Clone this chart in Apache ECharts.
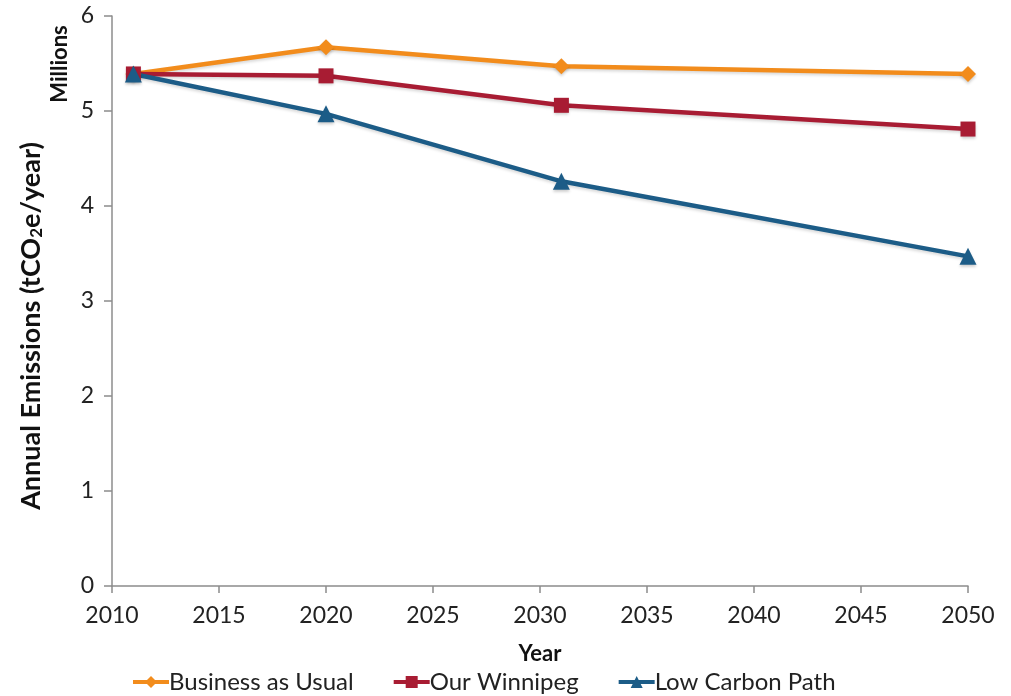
<!DOCTYPE html>
<html>
<head>
<meta charset="utf-8">
<script src="https://cdn.jsdelivr.net/npm/echarts@6/dist/echarts.min.js"></script>
<style>
  html, body { margin: 0; padding: 0; background: #fff; }
  #chart { width: 1011px; height: 696px; }
</style>
</head>
<body>
<div id="chart"></div>
<script>
// Annual emissions scenarios, millions of tCO2e per year
const years = [2011, 2020, 2031, 2050];
const businessAsUsual = [5.39, 5.67, 5.47, 5.39];
const ourWinnipeg = [5.39, 5.37, 5.06, 4.81];
const lowCarbonPath = [5.39, 4.97, 4.26, 3.47];
const seriesNames = ['Business as Usual', 'Our Winnipeg', 'Low Carbon Path'];

const FONT = 'Lato, "Open Sans", sans-serif';
const pair = (vals) => years.map((y, i) => [y, vals[i]]);

const chart = echarts.init(document.getElementById('chart'));

function lineSeries(name, vals, color, symbol, size) {
  return {
    name: name,
    type: 'line',
    data: pair(vals),
    symbol: symbol,
    symbolSize: size,
    showAllSymbol: true,
    lineStyle: { color: color, width: 4.5, shadowColor: 'rgba(0,0,0,0.15)', shadowBlur: 3, shadowOffsetY: 2 },
    itemStyle: { color: color, shadowColor: 'rgba(0,0,0,0.2)', shadowBlur: 3, shadowOffsetY: 2 },
    emphasis: { disabled: true },
    animation: false
  };
}

chart.setOption({
  backgroundColor: '#ffffff',
  textStyle: { fontFamily: FONT },
  grid: { left: 112, right: 43, top: 16, bottom: 110 },
  xAxis: {
    type: 'value',
    min: 2010,
    max: 2050,
    interval: 5,
    name: 'Year',
    nameLocation: 'middle',
    nameGap: 57,
    nameTextStyle: { fontFamily: FONT, fontWeight: 'bold', fontSize: 22, color: '#111' },
    axisLine: { show: true, lineStyle: { color: '#8c8c8c', width: 1.5 } },
    axisTick: { show: true, length: 7, lineStyle: { color: '#8c8c8c', width: 1.5 } },
    axisLabel: { fontFamily: FONT, fontSize: 23, color: '#222', margin: 18, formatter: (v) => String(v) },
    splitLine: { show: false }
  },
  yAxis: {
    type: 'value',
    min: 0,
    max: 6,
    interval: 1,
    axisLine: { show: true, lineStyle: { color: '#8c8c8c', width: 1.5 } },
    axisTick: { show: true, length: 8, lineStyle: { color: '#8c8c8c', width: 1.5 } },
    axisLabel: { fontFamily: FONT, fontSize: 23, color: '#222', margin: 18 },
    splitLine: { show: false }
  },
  legend: {
    data: seriesNames,
    bottom: -3,
    left: 126,
    itemWidth: 36,
    itemHeight: 15,
    itemGap: 38,
    lineStyle: { width: 4 },
    textStyle: { fontFamily: FONT, fontSize: 24, color: '#222', padding: [0, 0, 0, -5] }
  },
  graphic: [
    {
      type: 'text',
      x: 31,
      y: 326,
      rotation: Math.PI / 2,
      style: {
        text: '{b|Annual Emissions (tCO}{s|2}{b|e/year)}',
        align: 'center',
        verticalAlign: 'middle',
        rich: {
          b: { fontFamily: FONT, fontWeight: 'bold', fontSize: 27, fill: '#111' },
          s: { fontFamily: FONT, fontWeight: 'bold', fontSize: 17, fill: '#111', verticalAlign: 'bottom', padding: [12, 0, 0, 0] }
        }
      }
    },
    {
      type: 'text',
      x: 60,
      y: 64,
      rotation: Math.PI / 2,
      style: {
        text: 'Millions',
        align: 'center',
        verticalAlign: 'middle',
        fontFamily: FONT,
        fontWeight: 'bold',
        fontSize: 22,
        fill: '#111'
      }
    }
  ],
  series: [
    lineSeries(seriesNames[0], businessAsUsual, '#F28C1C', 'diamond', 16),
    lineSeries(seriesNames[1], ourWinnipeg, '#A81C33', 'rect', 15),
    lineSeries(seriesNames[2], lowCarbonPath, '#1C5C87', 'triangle', 17)
  ]
});
</script>
</body>
</html>
